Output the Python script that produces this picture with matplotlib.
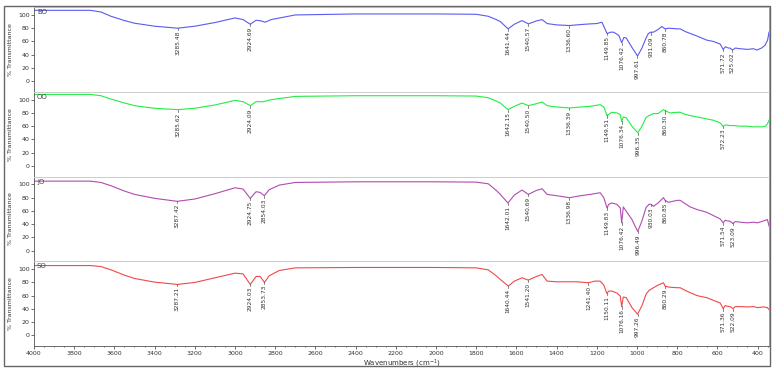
import numpy as np
import matplotlib
matplotlib.use('Agg')
import matplotlib.pyplot as plt
from matplotlib.patches import Rectangle

# ---- data (wavenumber cm-1, %T) ----
names = ['BO', 'OO', 'JO', 'SO']
colors = ['#5a5af0', '#22ee44', '#b04cb0', '#f24848']

bo_w = [4000, 3720, 3667, 3617, 3550, 3500, 3400, 3285, 3200, 3100, 3000, 2960, 2924, 2895, 2870, 2850,
        2820, 2700, 2400, 2000, 1800, 1740, 1700, 1680, 1641, 1610, 1572, 1540, 1500, 1472, 1447, 1400,
        1336, 1280, 1232, 1200, 1174, 1149, 1130, 1116, 1090, 1076, 1065, 1053, 1025, 997, 975, 955, 943,
        931, 918, 895, 876, 860, 840, 800, 785, 760, 735, 700, 653, 620, 586, 571, 560, 545, 537, 525,
        510, 487, 450, 420, 404, 380, 363, 350, 343]
bo_t = [107, 107, 104.5, 98, 91.5, 87.5, 83, 80, 83, 88.5, 95.5, 93, 86, 92, 91, 89,
        93, 100, 101.5, 101.5, 101, 98, 93, 90, 79, 86, 91.5, 86.5, 91, 93, 87, 85,
        84, 85.5, 86.5, 87, 89, 72, 74, 74, 69, 58, 66, 65, 51, 38, 50, 65, 72,
        74, 74, 78, 82.5, 79, 80, 79, 79, 75, 72, 68, 62, 60, 56, 48, 52, 50, 50, 47,
        50, 49, 48, 49, 47, 50, 54, 62, 74]

oo_w = [4000, 3720, 3667, 3617, 3550, 3500, 3400, 3285, 3200, 3100, 3000, 2960, 2924, 2895, 2860, 2820,
        2700, 2400, 2000, 1800, 1740, 1700, 1680, 1642, 1610, 1572, 1540, 1500, 1472, 1447, 1400, 1336,
        1280, 1232, 1183, 1165, 1149, 1125, 1100, 1083, 1076, 1068, 1053, 1025, 996, 975, 955, 940, 918,
        895, 868, 850, 835, 800, 785, 760, 735, 700, 653, 620, 586, 572, 556, 540, 520, 490, 454, 420,
        400, 379, 360, 350, 343]
oo_t = [108, 108, 106, 101, 95, 91, 87, 85, 87, 92, 99, 97, 91, 97, 97, 100,
        105, 106, 106, 105.5, 103, 98, 95, 85, 90, 95, 91, 94, 96.5, 91, 89, 87.5,
        89, 90, 92.5, 89, 76, 81, 80, 77.5, 67, 74, 72.5, 60, 50, 60, 73, 76, 79,
        79, 85, 82, 80, 81, 81, 78, 76, 74, 71, 69, 65, 60, 62, 61, 61, 60, 60, 59,
        59, 59, 60, 64, 69]

jo_w = [4000, 3720, 3667, 3617, 3550, 3500, 3400, 3287, 3200, 3100, 3000, 2960, 2924, 2895, 2875, 2854,
        2830, 2780, 2700, 2400, 2000, 1800, 1740, 1700, 1680, 1642, 1610, 1572, 1540, 1500, 1472, 1447,
        1400, 1336, 1280, 1232, 1183, 1165, 1149, 1140, 1125, 1100, 1083, 1076, 1068, 1053, 1025, 996,
        975, 955, 940, 930, 918, 895, 868, 860, 843, 800, 785, 760, 735, 700, 653, 620, 586, 571, 561,
        550, 537, 523, 510, 487, 450, 420, 400, 370, 351, 345, 343]
jo_t = [105, 105, 103, 98, 90, 85, 79, 74.5, 78, 86, 95, 93, 79, 89, 88, 83,
        92, 99, 103, 104, 104, 103.5, 101, 91, 85, 72, 84, 91.5, 85, 91, 93.5, 85,
        83, 80, 83, 85, 87.5, 80, 64.5, 70, 72, 70, 64.5, 42, 66, 59.5, 47, 29,
        45, 65, 70, 70, 67, 72, 80, 76, 73, 76, 76, 71, 66, 62, 58, 53, 48, 42, 46,
        45, 44.5, 41, 44, 43, 42, 43, 42, 45, 47, 40, 37]

so_w = [4000, 3720, 3667, 3617, 3550, 3500, 3400, 3287, 3200, 3100, 3000, 2960, 2924, 2895, 2875, 2853,
        2830, 2780, 2700, 2400, 2000, 1800, 1740, 1700, 1680, 1640, 1610, 1572, 1541, 1500, 1472, 1447,
        1400, 1300, 1241, 1210, 1183, 1165, 1150, 1140, 1125, 1100, 1083, 1076, 1068, 1053, 1025, 997,
        975, 955, 940, 918, 895, 868, 860, 843, 800, 785, 760, 735, 700, 653, 620, 586, 571, 561, 550,
        537, 522, 510, 487, 450, 420, 400, 370, 351, 343]
so_t = [105.5, 105.5, 104, 99, 91, 86, 80.5, 77, 80, 87, 94, 93, 77, 89, 89, 80,
        90, 98, 102, 102.6, 102.6, 102, 99, 90, 84.5, 74.5, 82, 87, 83.5, 89, 92, 82,
        81, 81, 79.5, 82, 82, 76, 63.5, 67, 67, 64, 59.5, 43.5, 58, 57, 42, 32,
        45, 62, 68, 72, 76, 79.5, 74.5, 73, 72, 72, 68, 64.5, 60, 57, 53, 49, 40.5, 45, 44,
        43.5, 40.5, 43.5, 43.5, 43, 43.5, 42, 43, 42, 39]

bo_peaks = ['3285.48', '2924.69', '1641.44', '1540.57', '1336.60', '1149.85', '1076.42', '997.61',
            '931.09', '860.78', '571.72', '525.02']
oo_peaks = ['3285.62', '2924.09', '1642.15', '1540.50', '1336.39', '1149.51', '1076.34', '996.35',
            '860.30', '572.23']
jo_peaks = ['3287.42', '2924.75', '2854.03', '1642.01', '1540.69', '1336.98', '1149.83', '1076.42',
            '996.49', '930.03', '860.85', '571.54', '523.09']
so_peaks = ['3287.21', '2924.03', '2853.73', '1640.44', '1541.20', '1241.40', '1150.11', '1076.16',
            '997.26', '860.29', '571.36', '522.09']

spectra = [(bo_w, bo_t, bo_peaks), (oo_w, oo_t, oo_peaks), (jo_w, jo_t, jo_peaks), (so_w, so_t, so_peaks)]

fig = plt.figure(figsize=(7.74, 3.71), dpi=100)
fig.patches.append(Rectangle((4 / 774, 1 - 366 / 371), 766 / 774, 360 / 371, transform=fig.transFigure,
                             fill=False, edgecolor='#666666', lw=1.0))

left, right = 34 / 774, 769 / 774
top_px, h_px = 7, 84.75
fs = 4.5

for i, ((w, t, peaks), name, c) in enumerate(zip(spectra, names, colors)):
    y0 = top_px + i * h_px
    ax = fig.add_axes([left, 1 - (y0 + h_px) / 371, right - left, h_px / 371])
    ax.plot(w, t, color=c, lw=0.8)
    ax.set_xlim(4000, 343)
    ax.set_ylim(-16, 112)
    ax.set_yticks([0, 20, 40, 60, 80, 100])
    ax.tick_params(axis='y', labelsize=fs, length=2, width=0.5, pad=1, colors='#333333')
    ax.set_ylabel('% Transmittance', fontsize=fs, labelpad=4, color='#333333')
    ax.text(0.004, 0.975, name, transform=ax.transAxes, fontsize=fs + 0.5, va='top', ha='left',
            color='#444444')
    ax.spines['top'].set_color('#cccccc')
    ax.spines['top'].set_linewidth(0.7)
    ax.spines['right'].set_color('#aaaaaa')
    ax.spines['right'].set_linewidth(0.7)
    ax.spines['left'].set_color('#555555')
    ax.spines['left'].set_linewidth(0.6)
    if i < 3:
        ax.spines['bottom'].set_color('#dddddd')
        ax.spines['bottom'].set_linewidth(0.7)
        ax.set_xticks([])
    else:
        ax.spines['bottom'].set_color('#555555')
        ax.spines['bottom'].set_linewidth(0.6)
        ax.set_xticks(np.arange(4000, 399, -200))
        ax.set_xticks(np.arange(4000, 349, -50), minor=True)
        ax.tick_params(axis='x', labelsize=fs, length=2, width=0.5, pad=1.5, colors='#333333')
        ax.tick_params(axis='x', which='minor', length=1, width=0.4)
        ax.set_xlabel('Wavenumbers (cm$^{-1}$)', fontsize=fs + 0.5, labelpad=1, color='#333333')

    wr, tr = np.array(w[::-1], float), np.array(t[::-1], float)
    for p in peaks:
        pw = float(p)
        near = (wr > pw - 12) & (wr < pw + 12)
        tip = np.interp(pw, wr, tr)
        low = min(tip, tr[near].min()) if near.any() else tip
        ax.plot([pw, pw], [tip, low - 3], color='#555555', lw=0.5)
        ax.text(pw, low - 4, p, rotation=90, ha='center', va='top', fontsize=fs - 0.3,
                color='#333333')

fig.savefig('out.png', dpi=100)
